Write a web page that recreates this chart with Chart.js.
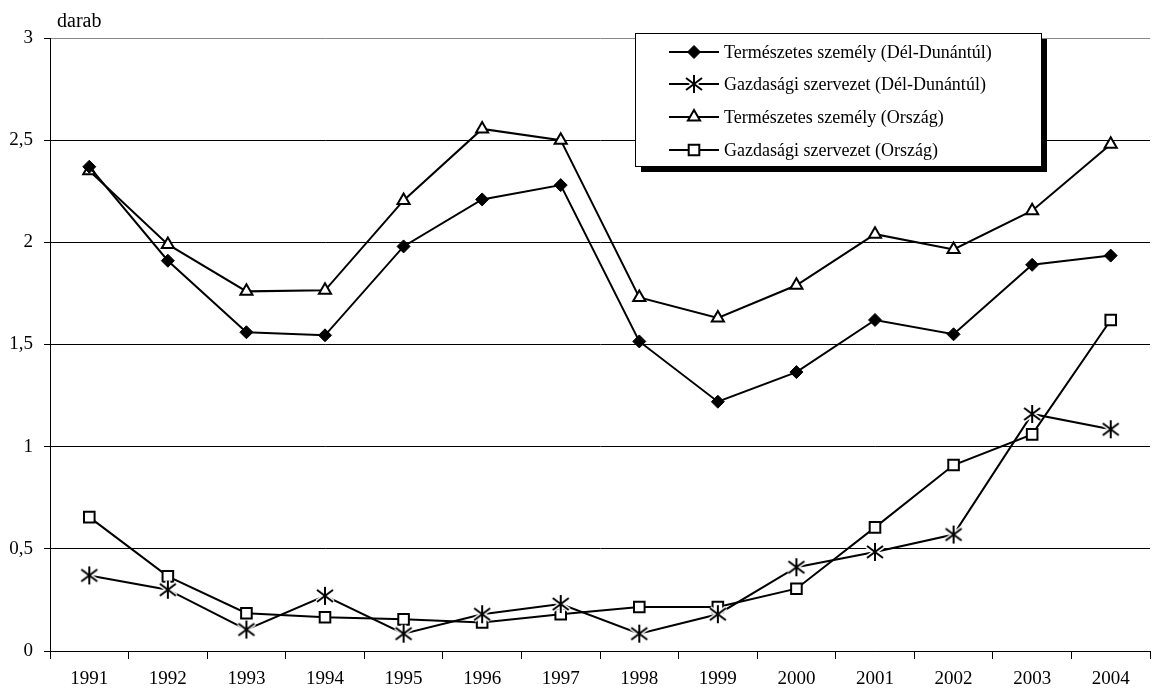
<!DOCTYPE html>
<html>
<head>
<meta charset="utf-8">
<script src="https://cdn.jsdelivr.net/npm/chart.js@4"></script>
<style>
  html, body { margin: 0; padding: 0; background: #fff; overflow: hidden; }
  #wrap { width: 1160px; height: 691px; position: relative; }
</style>
</head>
<body>
<div id="wrap"><canvas id="chart"></canvas></div>
<script>
const years = ["1991","1992","1993","1994","1995","1996","1997","1998","1999","2000","2001","2002","2003","2004"];
const termDD = [2.37,1.91,1.56,1.545,1.98,2.21,2.28,1.515,1.22,1.365,1.62,1.55,1.89,1.935];
const gazdDD = [0.37,0.30,0.105,0.27,0.085,0.18,0.23,0.085,0.18,0.41,0.485,0.57,1.16,1.085];
const termOrsz = [2.35,1.99,1.76,1.765,2.205,2.555,2.50,1.73,1.63,1.79,2.04,1.965,2.155,2.48];
const gazdOrsz = [0.655,0.365,0.185,0.165,0.155,0.14,0.18,0.215,0.215,0.305,0.605,0.91,1.06,1.62];
const labels = [
  "Természetes személy (Dél-Dunántúl)",
  "Gazdasági szervezet (Dél-Dunántúl)",
  "Természetes személy (Ország)",
  "Gazdasági szervezet (Ország)"
];

const FONT = "'Liberation Serif', 'Times New Roman', serif";

// asterisk marker (X with a vertical bar)
const star = document.createElement('canvas');
star.width = 20; star.height = 20;
(() => {
  const c = star.getContext('2d');
  const arms = () => {
    c.beginPath();
    c.moveTo(2, 4); c.lineTo(18, 16);
    c.moveTo(18, 4); c.lineTo(2, 16);
    c.moveTo(10, 1); c.lineTo(10, 19);
  };
  c.strokeStyle = '#fff'; c.lineWidth = 5; arms(); c.stroke();
  c.strokeStyle = '#000'; c.lineWidth = 2; arms(); c.stroke();
})();

const base = { borderColor: '#000', borderWidth: 2, tension: 0, pointBorderColor: '#000' };

const datasets = [
  Object.assign({}, base, { label: labels[0], data: termDD, pointStyle: 'rectRot', pointRadius: 6.5, pointBorderWidth: 1, pointBackgroundColor: '#000' }),
  Object.assign({}, base, { label: labels[1], data: gazdDD, pointStyle: star, pointRadius: 10, pointBorderWidth: 0, pointBackgroundColor: '#000' }),
  Object.assign({}, base, { label: labels[2], data: termOrsz, pointStyle: 'triangle', pointRadius: 7, pointBorderWidth: 2, pointBackgroundColor: '#fff' }),
  Object.assign({}, base, { label: labels[3], data: gazdOrsz, pointStyle: 'rect', pointRadius: 7.5, pointBorderWidth: 2, pointBackgroundColor: '#fff' })
];

const boxLegend = {
  id: 'boxLegend',
  afterDraw(chart) {
    const ctx = chart.ctx;
    ctx.save();
    // unit label
    ctx.font = '20px ' + FONT;
    ctx.fillStyle = '#000';
    ctx.textAlign = 'left';
    ctx.textBaseline = 'alphabetic';
    ctx.fillText('darab', 57, 27);

    const x = 635, y = 33, w = 406, h = 133;
    ctx.fillStyle = '#000';
    ctx.fillRect(x + 6, y + 6, w, h);
    ctx.fillStyle = '#fff';
    ctx.fillRect(x, y, w, h);
    ctx.strokeStyle = '#000';
    ctx.lineWidth = 1;
    ctx.strokeRect(x + 0.5, y + 0.5, w, h);

    const rows = [52, 84, 117, 150];
    chart.data.datasets.forEach((ds, i) => {
      const ry = rows[i];
      ctx.strokeStyle = '#000';
      ctx.lineWidth = 2;
      ctx.beginPath();
      ctx.moveTo(669, ry); ctx.lineTo(719, ry);
      ctx.stroke();
      ctx.fillStyle = ds.pointBackgroundColor;
      ctx.strokeStyle = '#000';
      ctx.lineWidth = ds.pointBorderWidth;
      Chart.helpers.drawPoint(ctx, {
        pointStyle: ds.pointStyle, radius: ds.pointRadius, rotation: 0, borderWidth: ds.pointBorderWidth
      }, 694, ry);
      ctx.fillStyle = '#000';
      ctx.font = '18px ' + FONT;
      ctx.textBaseline = 'middle';
      ctx.fillText(ds.label, 724, ry + 1);
    });
    ctx.restore();
  }
};

new Chart(document.getElementById('chart'), {
  type: 'line',
  data: { labels: years, datasets },
  options: {
    responsive: true,
    maintainAspectRatio: false,
    animation: false,
    layout: { padding: { top: 38, right: 4, left: 0, bottom: 0 } },
    plugins: { legend: { display: false }, tooltip: { enabled: false } },
    scales: {
      x: {
        offset: true,
        grid: { offset: true, drawOnChartArea: false, drawTicks: true, tickLength: 8, color: '#000' },
        border: { color: '#000', width: 1 },
        ticks: { color: '#000', font: { family: FONT, size: 19 }, padding: 9, maxRotation: 0 },
        afterFit(s) { s.height = 40; }
      },
      y: {
        min: 0, max: 3,
        ticks: {
          stepSize: 0.5, color: '#000', padding: 11,
          font: { family: FONT, size: 19 },
          callback: v => String(v).replace('.', ',')
        },
        grid: {
          color: c => c.tick && c.tick.value === 3 ? '#888' : '#000',
          tickColor: '#000', tickLength: 6, lineWidth: 1
        },
        border: { color: '#000', width: 1 },
        afterFit(s) { s.width = 50; }
      }
    }
  },
  plugins: [boxLegend]
});
</script>
</body>
</html>
